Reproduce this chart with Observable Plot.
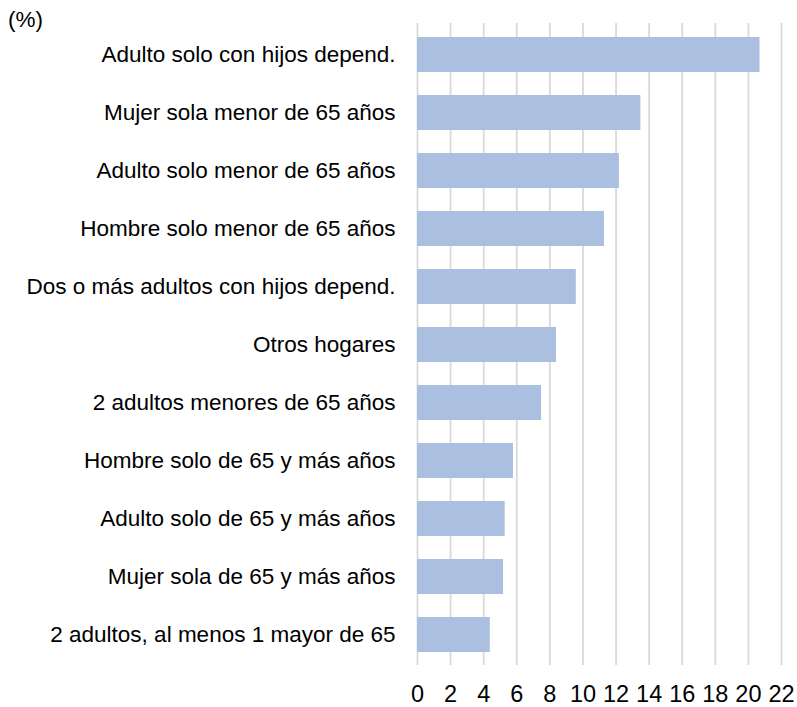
<!DOCTYPE html>
<html>
<head>
<meta charset="utf-8">
<script src="https://cdn.jsdelivr.net/npm/d3@7"></script>
<script src="https://cdn.jsdelivr.net/npm/@observablehq/plot@0.6"></script>
<style>
  html, body { margin: 0; padding: 0; background: #fff; }
  #wrap { position: relative; width: 797px; height: 707px; font-family: "Liberation Sans", Arial, sans-serif; }
  #unit { position: absolute; left: 8px; top: 9px; font-size: 22.5px; line-height: 1; color: #000; }
  #chart { position: absolute; left: 0; top: 0; }
</style>
</head>
<body>
<div id="wrap">
  <div id="chart"></div>
  <div id="unit">(%)</div>
</div>
<script>
const categories = [
  "Adulto solo con hijos depend.",
  "Mujer sola menor de 65 años",
  "Adulto solo menor de 65 años",
  "Hombre solo menor de 65 años",
  "Dos o más adultos con hijos depend.",
  "Otros hogares",
  "2 adultos menores de 65 años",
  "Hombre solo de 65 y más años",
  "Adulto solo de 65 y más años",
  "Mujer sola de 65 y más años",
  "2 adultos, al menos 1 mayor de 65"
];
const values = [20.7, 13.5, 12.2, 11.3, 9.6, 8.4, 7.5, 5.8, 5.3, 5.2, 4.4];
const xTicks = [0, 2, 4, 6, 8, 10, 12, 14, 16, 18, 20, 22];

const data = categories.map((c, i) => ({category: c, value: values[i]}));

const chart = Plot.plot({
  width: 797,
  height: 707,
  marginLeft: 417,
  marginRight: 16,
  marginTop: 23,
  marginBottom: 42,
  style: {fontFamily: '"Liberation Sans", Arial, sans-serif', fontSize: "22px", color: "#000", background: "#fff"},
  x: {domain: [0, 22], ticks: xTicks},
  y: {domain: categories, paddingInner: 0.4, paddingOuter: 0.2},
  marks: [
    Plot.ruleX(xTicks, {stroke: "#d9d9d9", strokeWidth: 1.8}),
    Plot.barX(data, {x: "value", y: "category", fill: "#abbfe1"}),
    Plot.axisX({ticks: xTicks, tickSize: 0, tickPadding: 20, fontSize: 23.5, label: null}),
    Plot.axisY({tickSize: 0, tickPadding: 22, fontSize: 22.5, label: null})
  ]
});
document.getElementById("chart").appendChild(chart);
</script>
</body>
</html>
